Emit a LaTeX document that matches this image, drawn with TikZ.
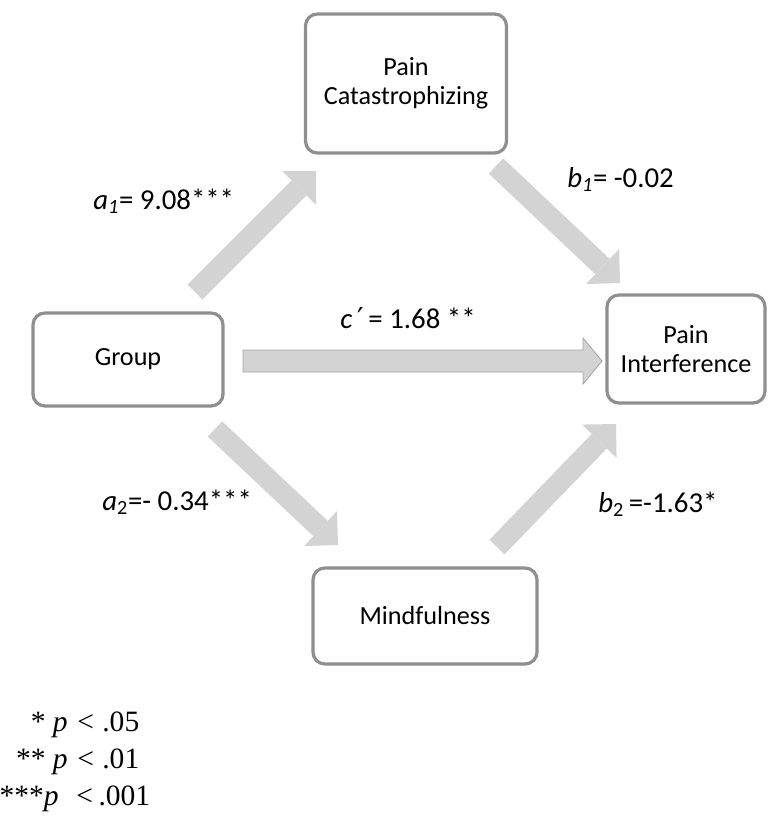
\documentclass[tikz,border=0pt]{standalone}
\usepackage{fontspec}
\setmainfont{Carlito}
\newfontfamily\legendfont{Liberation Serif}
\newfontfamily\primefont{DejaVu Sans}
\usetikzlibrary{arrows.meta}
\definecolor{BoxLine}{HTML}{8F8F8F}
\definecolor{ArrowFill}{HTML}{D3D3D3}
\definecolor{ArrowLine}{HTML}{A5A5A5}

\begin{document}
\begin{tikzpicture}[x=0.025cm,y=-0.025cm,
  varbox/.style={draw=BoxLine,line width=0.08cm,rounded corners=0.3cm,fill=white,align=center,inner sep=0pt,font=\fontsize{18.6}{20.5}\selectfont},
  pathlabel/.style={anchor=base west,inner sep=0pt,font=\fontsize{20.5}{24}\selectfont},
  fatarrow/.style={draw=ArrowFill,line width=0.525cm,-{Triangle[length=0.6cm,width=1.2cm,line width=0pt]}},
  midarrow/.style={draw=ArrowLine,fill=ArrowFill,line width=0.6pt},
  legendstar/.style={anchor=base east,inner sep=0pt,font=\legendfont\fontsize{21}{24}\selectfont},
  legendval/.style={anchor=base west,inner sep=0pt,font=\legendfont\fontsize{21}{24}\selectfont}]
\path[use as bounding box] (0,0) rectangle (768,817);
\node[varbox,minimum width=5.025cm,minimum height=3.475cm] (catas) at (406,83.5) {Pain\\Catastrophizing};
\node[varbox,minimum width=4.75cm,minimum height=2.325cm] (group) at (128,359.5) {Group};
\node[varbox,minimum width=3.95cm,minimum height=2.7cm] (interf) at (686,349) {Pain\\Interference};
\node[varbox,minimum width=5.6cm,minimum height=2.4cm] (mindful) at (425,616) {Mindfulness};
\coordinate (a1tail) at (195,292);
\coordinate (a1tip) at (316,171);
\coordinate (b1tail) at (496,166);
\coordinate (b1tip) at (620,283);
\coordinate (a2tail) at (215,429);
\coordinate (a2tip) at (338,545);
\coordinate (b2tail) at (497,547);
\coordinate (b2tip) at (616,424);
\coordinate (ctail) at (243,361);
\coordinate (ctip) at (602,361);
\draw[fatarrow] (a1tail) -- (a1tip);
\draw[fatarrow] (b1tail) -- (b1tip);
\draw[fatarrow] (a2tail) -- (a2tip);
\draw[fatarrow] (b2tail) -- (b2tip);
\draw[midarrow] (ctail) ++(0,-11) -- ++(340,0) -- ++(0,-12) -- (ctip) -- ++(-19,23) -- ++(0,-12) -- ++(-340,0) -- cycle;
\node[pathlabel] (a1lab) at (93,209) {\textit{a\textsubscript{1}}= 9.08***};
\node[pathlabel] (b1lab) at (567,187) {\textit{b\textsubscript{1}}= -0.02};
\node[pathlabel] (clab) at (340,328) {\textit{c}\,{\primefont ′}\,= 1.68 **};
\node[pathlabel] (a2lab) at (102,510) {\textit{a}\textsubscript{2}=- 0.34***};
\node[pathlabel] (b2lab) at (598,512) {\textit{b}\textsubscript{2}\,=-1.63*};
\node[legendstar] (star1) at (68,731) {* \textit{p}};
\node[legendval] (val1) at (77,731) {<\hspace{6pt}.05};
\node[legendstar] (star2) at (68,768) {** \textit{p}};
\node[legendval] (val2) at (77,768) {<\hspace{6pt}.01};
\node[legendstar] (star3) at (59,805) {***\textit{p}};
\node[legendval] (val3) at (76,805) {<\hspace{4pt}.001};
\end{tikzpicture}
\end{document}
